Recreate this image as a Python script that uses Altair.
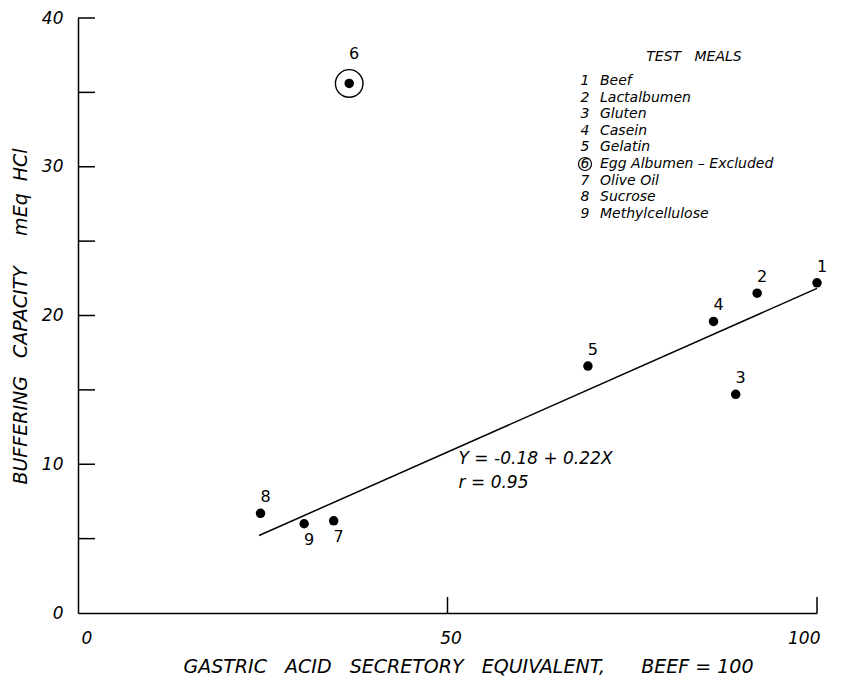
import altair as alt
import pandas as pd

# ---- data ----
meal_ids = ["1", "2", "3", "4", "5", "6", "7", "8", "9"]
meal_names = ["Beef", "Lactalbumen", "Gluten", "Casein", "Gelatin",
              "Egg Albumen \u2013 Excluded", "Olive Oil", "Sucrose", "Methylcellulose"]
gastric_equiv = [100.0, 91.9, 89.0, 86.0, 69.0, 36.7, 34.6, 24.7, 30.6]
buffering = [22.2, 21.5, 14.7, 19.6, 16.6, 35.6, 6.2, 6.7, 6.0]
label_side = ["above", "above", "above", "above", "above", "circle", "below", "above", "below"]
excluded = [False, False, False, False, False, True, False, False, False]

fit_intercept = -0.18
fit_slope = 0.22
fit_x_range = [24.5, 100.0]
equation_lines = ["Y = -0.18 + 0.22X", "r = 0.95"]

y_tick_values = [5, 10, 15, 20, 25, 30, 35, 40]
x_tick_values = [50, 100]

FONT = "DejaVu Sans"
W, H = 739, 595
SP = "\u00a0"

pts = pd.DataFrame({"id": meal_ids, "name": meal_names, "x": gastric_equiv,
                    "y": buffering, "side": label_side, "excluded": excluded})
fit = pd.DataFrame({"x": fit_x_range})
one = pd.DataFrame({"k": [0]})

xs = alt.Scale(domain=[0, 100], nice=False, zero=True)
ys = alt.Scale(domain=[0, 40], nice=False, zero=True)

x_title = ("GASTRIC" + SP * 3 + "ACID" + SP * 3 + "SECRETORY" + SP * 3 + "EQUIVALENT,"
           + SP * 6 + "BEEF = 100")
y_title = "BUFFERING" + SP * 3 + "CAPACITY" + SP * 5 + "mEq" + SP * 2 + "HCl"

x_axis = alt.Axis(values=[0, 50, 100], ticks=False, grid=False, domainColor="black",
                  domainWidth=1.5, labelFont=FONT, labelFontStyle="italic", labelFontSize=17,
                  labelColor="black", labelPadding=17, labelOffset=3,
                  title=x_title,
                  titleFont=FONT, titleFontStyle="italic", titleFontWeight="normal",
                  titleFontSize=19, titleColor="black", titleX=390, titleY=53,
                  titleAlign="center", titleBaseline="middle")
y_axis = alt.Axis(values=[0, 10, 20, 30, 40], ticks=False, grid=False, domainColor="black",
                  domainWidth=1.5, labelFont=FONT, labelFontStyle="italic", labelFontSize=17,
                  labelColor="black", labelPadding=15,
                  title=y_title,
                  titleFont=FONT, titleFontStyle="italic", titleFontWeight="normal",
                  titleFontSize=19, titleColor="black", titleX=-58, titleY=298,
                  titleAngle=270, titleAlign="center", titleBaseline="middle")

base = alt.Chart(pts)

dots = base.mark_circle(size=90, color="black", opacity=1).encode(
    x=alt.X("x:Q", scale=xs, axis=x_axis),
    y=alt.Y("y:Q", scale=ys, axis=y_axis),
)
ring = base.transform_filter("datum.excluded").mark_point(
    shape="circle", size=760, filled=False, color="black", strokeWidth=1.4, opacity=1
).encode(x=alt.X("x:Q", scale=xs), y=alt.Y("y:Q", scale=ys))

def labels(side, dy):
    return base.transform_filter(f"datum.side == '{side}'").mark_text(
        font=FONT, fontSize=16, color="black", dx=5, dy=dy, align="center", baseline="middle"
    ).encode(x=alt.X("x:Q", scale=xs), y=alt.Y("y:Q", scale=ys), text="id:N")

lab_above = labels("above", -16)
lab_below = labels("below", 16)
lab_circle = labels("circle", -29)

line = alt.Chart(fit).transform_calculate(
    y=f"{fit_intercept} + {fit_slope} * datum.x"
).mark_line(color="black", strokeWidth=1.5).encode(
    x=alt.X("x:Q", scale=xs), y=alt.Y("y:Q", scale=ys)
)

eq = alt.Chart(one).mark_text(
    font=FONT, fontSize=17, fontStyle="italic", color="black", align="left",
    baseline="top", lineHeight=24
).encode(x=alt.datum(51.5), y=alt.datum(10.9), text=alt.value(equation_lines))

yt = alt.Chart(pd.DataFrame({"v": y_tick_values})).mark_rule(color="black", strokeWidth=1.5).encode(
    y=alt.Y("v:Q", scale=ys), x=alt.value(0), x2=alt.value(17))
xt = alt.Chart(pd.DataFrame({"v": x_tick_values})).mark_rule(color="black", strokeWidth=1.5).encode(
    x=alt.X("v:Q", scale=xs), y=alt.value(H - 16), y2=alt.value(H))

# legend block: one row per meal, placed in pixels inside the plot area
row0, row_h = 63, 16.6
leg_base = alt.Chart(pts).transform_window(
    row="row_number()"
).transform_calculate(
    py=f"{row0} + {row_h} * (datum.row - 1)"
)
leg_head = alt.Chart(one).mark_text(
    font=FONT, fontSize=14, fontStyle="italic", color="black", align="center", baseline="middle"
).encode(x=alt.value(616), y=alt.value(39), text=alt.value("TEST" + SP * 3 + "MEALS"))
leg_nums = leg_base.mark_text(
    font=FONT, fontSize=14, fontStyle="italic", color="black", align="center", baseline="middle"
).encode(x=alt.value(507), y=alt.Y("py:Q", scale=None), text="id:N")
leg_names = leg_base.mark_text(
    font=FONT, fontSize=14, fontStyle="italic", color="black", align="left", baseline="middle"
).encode(x=alt.value(522), y=alt.Y("py:Q", scale=None), text="name:N")
leg_ring = leg_base.transform_filter("datum.excluded").mark_point(
    shape="circle", size=170, filled=False, color="black", strokeWidth=1.2, opacity=1
).encode(x=alt.value(507), y=alt.Y("py:Q", scale=None))

chart = alt.layer(
    line, dots, ring, lab_above, lab_below, lab_circle, eq, yt, xt,
    leg_head, leg_nums, leg_names, leg_ring
).properties(
    width=W, height=H,
    autosize=alt.AutoSizeParams(type="none"),
    padding={"left": 70, "top": 10, "right": 23, "bottom": 64},
    background="white",
).configure_view(stroke=None)

chart.save("out.html", embed_options={"renderer": "svg", "actions": False})
